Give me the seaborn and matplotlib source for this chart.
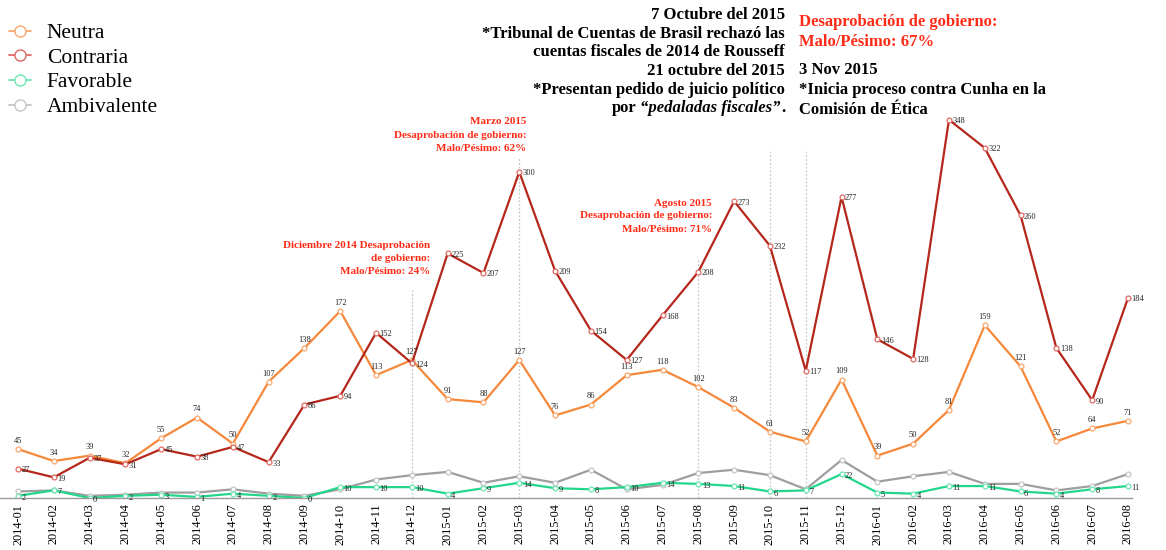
import pandas as pd
import numpy as np
import matplotlib
matplotlib.use('Agg')
import matplotlib.pyplot as plt
from matplotlib.lines import Line2D
import seaborn as sns

# ── Data ─────────────────────────────────────────────────────────────
months = ["2014-01", "2014-02", "2014-03", "2014-04", "2014-05", "2014-06",
          "2014-07", "2014-08", "2014-09", "2014-10", "2014-11", "2014-12",
          "2015-01", "2015-02", "2015-03", "2015-04", "2015-05", "2015-06",
          "2015-07", "2015-08", "2015-09", "2015-10", "2015-11", "2015-12",
          "2016-01", "2016-02", "2016-03", "2016-04", "2016-05", "2016-06",
          "2016-07", "2016-08"]
neutra = [45, 34, 39, 32, 55, 74, 50, 107, 138, 172, 113, 127,
          91, 88, 127, 76, 86, 113, 118, 102, 83, 61, 52, 109,
          39, 50, 81, 159, 121, 52, 64, 71]
contraria = [27, 19, 37, 31, 45, 38, 47, 33, 86, 94, 152, 124,
             225, 207, 300, 209, 154, 127, 168, 208, 273, 232, 117, 277,
             146, 128, 348, 322, 260, 138, 90, 184]
favorable = [2, 7, 0, 2, 3, 1, 4, 2, 0, 10, 10, 10,
             4, 9, 14, 9, 8, 10, 14, 13, 11, 6, 7, 22,
             5, 4, 11, 11, 6, 4, 8, 11]
ambivalente = [6, 7, 2, 3, 5, 5, 8, 4, 2, 8, 17, 21,
               24, 14, 20, 14, 26, 8, 12, 23, 26, 21, 8, 35,
               15, 20, 24, 13, 13, 7, 11, 22]

series_names = ["Neutra", "Contraria", "Favorable", "Ambivalente"]
series_values = [neutra, contraria, favorable, ambivalente]

# event markers: month, top of dotted line
event_months = ["2014-12", "2015-03", "2015-08", "2015-10", "2015-11"]
event_tops = [191, 313, 222, 320, 320]

# ── Style ────────────────────────────────────────────────────────────
sns.set_theme(style="white")
plt.rcParams['font.family'] = ['Liberation Serif', 'DejaVu Serif']
plt.rcParams['text.color'] = 'black'

COLORS = {"Neutra": "#f5883a", "Contraria": "#b5261b",
          "Favorable": "#22d68c", "Ambivalente": "#9e9e9e"}
EDGES = {"Neutra": "#f8a76c", "Contraria": "#dd6a62",
         "Favorable": "#6be6b2", "Ambivalente": "#c4c4c4"}
RED = "#ff2b17"

W, H = 1166, 550
fig = plt.figure(figsize=(W / 100, H / 100), dpi=100)
ax = fig.add_axes([0, 1 - 498 / H, 1132 / W, 498 / H])

idx = np.arange(len(months))
df = pd.concat([pd.DataFrame({"i": idx, "value": v, "serie": n})
                for n, v in zip(series_names, series_values)])

# draw order: gray and green behind, red on top
for name in ["Ambivalente", "Favorable", "Neutra", "Contraria"]:
    sub = df[df.serie == name]
    sns.lineplot(data=sub, x="i", y="value", color=COLORS[name], lw=1.6,
                 marker="o", markersize=3.5, markerfacecolor="white",
                 markeredgecolor=EDGES[name], markeredgewidth=0.9,
                 ax=ax, legend=False)

# event lines
for m, top in zip(event_months, event_tops):
    ax.vlines(months.index(m), 0, top, colors="#c8c8c8", linestyles=(0, (1.5, 1.5)),
              lw=0.9, zorder=0)

# value labels
lab_kw = dict(fontsize=6, color="#222222", textcoords="offset points")
for i, v in enumerate(neutra):
    ax.annotate(str(v), (i, v), xytext=(0, 3), ha="center", va="bottom", **lab_kw)
for i, v in enumerate(contraria):
    ax.annotate(str(v), (i, v), xytext=(2.5, -1), ha="left", va="center", **lab_kw)
for i, v in enumerate(favorable):
    ax.annotate(str(v), (i, v), xytext=(2.5, -1.5), ha="left", va="center", **lab_kw)

ax.set_xlim(-18 / 35.8, 31 + 4 / 35.8)
ax.set_ylim(0, 498 / 1.087)
ax.set_xticks(idx)
ax.set_xticklabels(months, rotation=90, fontsize=8.8, color="black")
ax.tick_params(axis="x", length=0, pad=4)
ax.set_yticks([])
ax.set_xlabel("")
ax.set_ylabel("")
for s in ["top", "right", "left"]:
    ax.spines[s].set_visible(False)
ax.spines["bottom"].set_color("#9a9a9a")
ax.spines["bottom"].set_linewidth(1.0)


# ── Texts ────────────────────────────────────────────────────────────
def ftext(px, py, s, **kw):
    return fig.text(px / W, 1 - py / H, s, va="center", **kw)


big = dict(fontsize=12, fontweight="bold")
ftext(785, 15, "7 Octubre del 2015", ha="right", color="black", **big)
ftext(785, 33.5, "*Tribunal de Cuentas de Brasil rechazó las", ha="right", color="black", **big)
ftext(785, 52.5, "cuentas fiscales de 2014 de Rousseff", ha="right", color="black", **big)
ftext(785, 71, "21 octubre del 2015", ha="right", color="black", **big)
ftext(785, 89.5, "*Presentan pedido de juicio político", ha="right", color="black", **big)
t3 = ftext(785, 108.5, ".", ha="right", color="black", **big)
t2 = ax.annotate("“pedaladas fiscales”", xy=(0, 0), xycoords=t3, ha="right", va="bottom",
                 fontstyle="italic", color="black", annotation_clip=False, **big)
ax.annotate("por", xy=(0, 0), xycoords=t2, xytext=(-3, 0), textcoords="offset points",
            ha="right", va="bottom", color="black", annotation_clip=False, **big)

ftext(799, 21.5, "Desaprobación de gobierno:", ha="left", color=RED, **big)
ftext(799, 41.5, "Malo/Pésimo: 67%", ha="left", color=RED, **big)
ftext(799, 70, "3 Nov 2015", ha="left", color="black", **big)
ftext(799, 90.5, "*Inicia proceso contra Cunha en la", ha="left", color="black", **big)
ftext(799, 110, "Comisión de Ética", ha="left", color="black", **big)

small = dict(fontsize=8, fontweight="bold", color=RED, ha="right")
ftext(526, 122, "Marzo 2015", **small)
ftext(526, 135.5, "Desaprobación de gobierno:", **small)
ftext(526, 148.5, "Malo/Pésimo: 62%", **small)
ftext(430, 245, "Diciembre 2014 Desaprobación", **small)
ftext(430, 258.5, "de gobierno:", **small)
ftext(430, 271.5, "Malo/Pésimo: 24%", **small)
ftext(712, 203, "Agosto 2015", **small)
ftext(712, 216, "Desaprobación de gobierno:", **small)
ftext(712, 229, "Malo/Pésimo: 71%", **small)

# ── Legend ───────────────────────────────────────────────────────────
handles = [Line2D([0], [0], color=EDGES[n], lw=1.3, marker="o", markersize=8,
                  markerfacecolor="white", markeredgecolor=EDGES[n], markeredgewidth=1.0)
           for n in series_names]
fig.legend(handles, series_names, loc="upper left",
           bbox_to_anchor=(-8 / W, 1 - 6 / H),
           frameon=False, fontsize=15.5, handlelength=1.0, handletextpad=0.75,
           labelspacing=0.21, borderaxespad=0.3, borderpad=0.5, labelcolor="black")

fig.savefig("out.png", dpi=100)
